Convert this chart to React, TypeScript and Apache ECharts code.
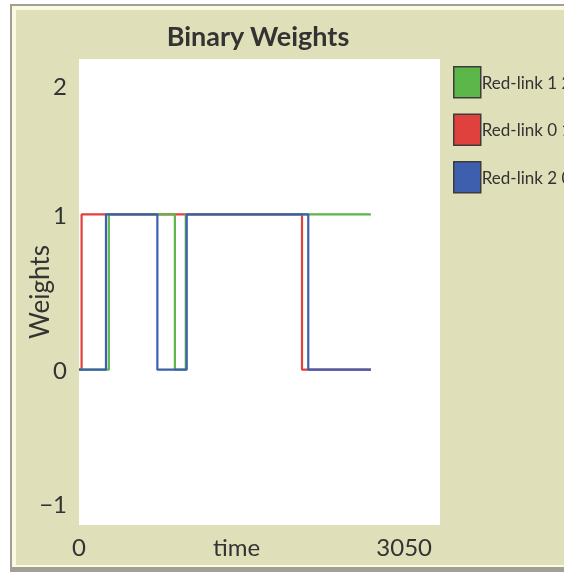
import React, { useEffect, useRef } from "react";
import * as echarts from "echarts";

const TITLE = "Binary Weights";
const X_NAME = "time";
const Y_NAME = "Weights";
const X_MIN = 0;
const X_MAX = 3050;
const Y_MIN = -1;
const Y_MAX = 2;

const SERIES_NAMES = ["Red-link 0 1", "Red-link 1 2", "Red-link 2 0"];
const SERIES_COLORS = ["#e0413d", "#5cb64a", "#3d5fae"];
const LEGEND_ORDER = ["Red-link 1 2", "Red-link 0 1", "Red-link 2 0"];

// [time, weight] – value holds from this time until the next point
const red: [number, number][] = [
  [0, 0],
  [22, 1],
  [1884, 0],
  [2466, 0],
];
const green: [number, number][] = [
  [0, 0],
  [252, 1],
  [810, 0],
  [902, 1],
  [2466, 1],
];
const blue: [number, number][] = [
  [0, 0],
  [228, 1],
  [662, 0],
  [910, 1],
  [1937, 0],
  [2466, 0],
];
const SERIES_DATA = [red, green, blue];

const FONT = "Lato, 'Open Sans', sans-serif";

export default function App() {
  const ref = useRef<HTMLDivElement>(null);
  useEffect(() => {
    if (!ref.current) return;
    const chart = echarts.init(ref.current, undefined, { renderer: "svg" });
    chart.setOption({
      animation: false,
      textStyle: { fontFamily: FONT },
      graphic: [
        { type: "rect", z: -10, silent: true, shape: { x: 0, y: 0, width: 564, height: 572 }, style: { fill: "#ffffff" } },
        { type: "rect", z: -9, silent: true, shape: { x: 10, y: 4, width: 560, height: 568 }, style: { fill: "#a0a096" } },
        { type: "rect", z: -8, silent: true, shape: { x: 12, y: 6, width: 560, height: 561 }, style: { fill: "#fbf9df" } },
        { type: "rect", z: -7, silent: true, shape: { x: 16, y: 10, width: 560, height: 555 }, style: { fill: "#dfdfb9" } },
      ],
      title: {
        text: TITLE,
        left: 253,
        top: 17,
        textAlign: "center",
        textStyle: { fontFamily: FONT, fontSize: 27, fontWeight: "bold", color: "#333333" },
      },
      legend: {
        orient: "vertical",
        left: 448,
        top: 61,
        itemWidth: 27,
        itemHeight: 31,
        itemGap: 15,
        icon: "rect",
        data: LEGEND_ORDER,
        itemStyle: { borderColor: "#3c3c3c", borderWidth: 1.5 },
        textStyle: { fontFamily: FONT, fontSize: 17, color: "#333333", padding: [0, 0, 0, -4] },
      },
      grid: {
        left: 79,
        right: 124,
        top: 59,
        bottom: 47,
        outerBoundsMode: "none",
        containLabel: false,
        show: true,
        backgroundColor: "#ffffff",
        borderWidth: 0,
      },
      xAxis: {
        type: "value",
        min: X_MIN,
        max: X_MAX,
        interval: X_MAX,
        name: X_NAME,
        nameLocation: "middle",
        nameGap: 9,
        nameMoveOverlap: false,
        nameTextStyle: { fontFamily: FONT, fontSize: 24, color: "#333333", verticalAlign: "top", padding: [0, 46, 0, 0] },
        axisLine: { show: false },
        axisTick: { show: false },
        splitLine: { show: false },
        axisLabel: {
          margin: 9,
          fontFamily: FONT,
          fontSize: 24,
          color: "#333333",
          alignMinLabel: "center",
          alignMaxLabel: "right",
          formatter: (v: number) => (v === X_MAX ? "{r|" + v + "}" : String(v)),
          rich: { r: { fontFamily: FONT, fontSize: 24, color: "#333333", padding: [0, 8, 0, 0] } },
        },
      },
      yAxis: {
        type: "value",
        min: Y_MIN,
        max: Y_MAX,
        interval: 1,
        name: Y_NAME,
        nameLocation: "middle",
        nameGap: 27,
        nameRotate: 90,
        nameMoveOverlap: false,
        nameTextStyle: { fontFamily: FONT, fontSize: 26, color: "#333333" },
        axisLine: { show: false },
        axisTick: { show: false },
        splitLine: { show: false },
        axisLabel: {
          margin: 12,
          fontFamily: FONT,
          fontSize: 24,
          color: "#333333",
          formatter: (v: number) => {
            const s = v < 0 ? "\u2212" + Math.abs(v) : String(v);
            if (v === Y_MAX) return "{t|" + s + "}";
            if (v === Y_MIN) return "{b|" + s + "}";
            return s;
          },
          rich: {
            t: { fontFamily: FONT, fontSize: 24, color: "#333333", padding: [52, 0, 0, 0] },
            b: { fontFamily: FONT, fontSize: 24, color: "#333333", padding: [0, 0, 44, 0] },
          },
        },
      },
      series: SERIES_NAMES.map((name, i) => ({
        name,
        type: "line",
        step: "end",
        symbol: "none",
        data: SERIES_DATA[i],
        color: SERIES_COLORS[i],
        lineStyle: { width: 2.2, color: SERIES_COLORS[i] },
        itemStyle: { color: SERIES_COLORS[i] },
        z: 2 + i,
      })),
    });
    return () => chart.dispose();
  }, []);
  return <div ref={ref} style={{ position: "fixed", left: 0, top: 0, width: 564, height: 572 }} />;
}
